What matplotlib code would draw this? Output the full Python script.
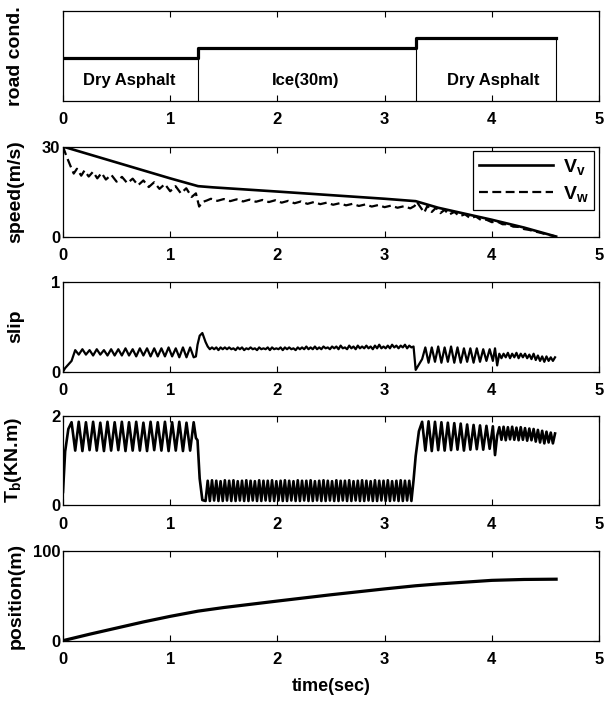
import numpy as np
import matplotlib
matplotlib.use("Agg")
import matplotlib.pyplot as plt
from matplotlib.font_manager import FontProperties

plt.rcParams["font.family"] = ["Liberation Sans", "DejaVu Sans"]
plt.rcParams["font.weight"] = "bold"
plt.rcParams["mathtext.fontset"] = "custom"
plt.rcParams["mathtext.rm"] = "Liberation Sans:bold"
plt.rcParams["mathtext.default"] = "rm"

# --- road condition ---
rc_t = [0.0, 1.26, 1.26, 3.29, 3.29, 4.60]
rc_v = [0.47, 0.47, 0.59, 0.59, 0.70, 0.70]
rc_edges = [1.26, 3.29, 4.60]
rc_edge_h = [0.47, 0.59, 0.70]
rc_names = ["Dry Asphalt", "Ice(30m)", "Dry Asphalt"]
rc_name_x = [0.62, 2.26, 4.01]

# --- speeds ---
vv_t = [0.0, 0.5, 1.0, 1.26, 1.4, 2.0, 2.5, 3.0, 3.29, 3.5, 4.0, 4.3, 4.6]
vv = [30.0, 24.7, 19.4, 16.8, 16.4, 15.0, 13.8, 12.6, 11.8, 9.6, 5.6, 3.0, 0.0]

vw_t = [0.00, 0.03, 0.07, 0.10, 0.13, 0.17, 0.20, 0.24, 0.28, 0.32, 0.36, 0.40, 0.45,
        0.50, 0.55, 0.60, 0.65, 0.70, 0.75, 0.80, 0.85, 0.90, 0.95, 1.00, 1.05, 1.10,
        1.15, 1.20, 1.24, 1.27, 1.30, 1.34, 1.38,
        1.44, 1.50, 1.56, 1.62, 1.68, 1.74, 1.80, 1.86, 1.92, 1.98, 2.04, 2.10, 2.16,
        2.22, 2.28, 2.34, 2.40, 2.46, 2.52, 2.58, 2.64, 2.70, 2.76, 2.82, 2.88, 2.94,
        3.00, 3.06, 3.12, 3.18, 3.24, 3.28, 3.30,
        3.34, 3.37, 3.40, 3.44, 3.48, 3.52, 3.56, 3.60, 3.65, 3.70, 3.75, 3.80, 3.85,
        3.90, 3.95, 4.00, 4.05, 4.10, 4.15, 4.20, 4.25, 4.30, 4.35, 4.40, 4.45, 4.50,
        4.55, 4.60]
vw = [30.0, 27.0, 23.5, 21.0, 22.6, 20.3, 22.0, 20.0, 21.6, 19.4, 21.2, 19.0, 20.6,
      18.3, 19.9, 17.8, 19.3, 17.1, 18.7, 16.5, 18.1, 15.9, 17.5, 15.1, 16.8, 14.4,
      16.1, 13.2, 14.4, 10.0, 11.5, 12.0, 12.6,
      11.9, 12.5, 11.8, 12.4, 11.7, 12.3, 11.6, 12.2, 11.5, 12.1, 11.3, 11.9, 11.1,
      11.7, 10.9, 11.5, 10.8, 11.3, 10.6, 11.1, 10.4, 10.9, 10.2, 10.7, 10.0, 10.5,
      9.8, 10.3, 9.6, 10.1, 9.4, 10.2, 11.6,
      9.5, 8.0, 10.3, 8.2, 9.6, 7.8, 8.9, 7.3, 8.2, 6.8, 7.4, 6.1, 6.7,
      5.5, 5.6, 4.8, 5.0, 4.1, 4.1, 3.3, 3.2, 2.5, 2.2, 1.7, 1.3, 0.8,
      0.4, 0.0]

# --- slip and brake torque (same sample instants) ---
t_dry = [0.000, 0.020, 0.050, 0.080, 0.114, 0.147, 0.181, 0.214, 0.248, 0.281, 0.315,
         0.348, 0.382, 0.415, 0.449, 0.482, 0.516, 0.549, 0.583, 0.616, 0.650, 0.683,
         0.717, 0.750, 0.784, 0.817, 0.851, 0.884, 0.918, 0.951, 0.985, 1.018, 1.052,
         1.085, 1.119, 1.152, 1.186, 1.219, 1.240, 1.255, 1.275, 1.300, 1.330]
tb_dry = [0.30, 1.20, 1.70, 1.85, 1.22, 1.86, 1.21, 1.85, 1.23, 1.86, 1.22, 1.84,
          1.21, 1.86, 1.22, 1.85, 1.23, 1.86, 1.21, 1.85, 1.22, 1.86, 1.22, 1.84,
          1.21, 1.86, 1.23, 1.85, 1.22, 1.86, 1.21, 1.85, 1.22, 1.86, 1.21, 1.84,
          1.22, 1.85, 1.50, 1.45, 0.60, 0.12, 0.10]
slip_dry = [0.00, 0.04, 0.08, 0.12, 0.24, 0.19, 0.25, 0.19, 0.24, 0.18, 0.25, 0.19,
            0.24, 0.18, 0.25, 0.18, 0.25, 0.18, 0.26, 0.18, 0.25, 0.17, 0.26, 0.18,
            0.26, 0.17, 0.26, 0.17, 0.26, 0.17, 0.27, 0.17, 0.26, 0.16, 0.27, 0.16,
            0.27, 0.16, 0.17, 0.30, 0.40, 0.43, 0.33]

t_ice = [1.35, 1.37, 1.39, 1.41, 1.43, 1.45, 1.47, 1.49, 1.51, 1.53,
         1.55, 1.57, 1.59, 1.61, 1.63, 1.65, 1.67, 1.69, 1.71, 1.73,
         1.75, 1.77, 1.79, 1.81, 1.83, 1.85, 1.87, 1.89, 1.91, 1.93,
         1.95, 1.97, 1.99, 2.01, 2.03, 2.05, 2.07, 2.09, 2.11, 2.13,
         2.15, 2.17, 2.19, 2.21, 2.23, 2.25, 2.27, 2.29, 2.31, 2.33,
         2.35, 2.37, 2.39, 2.41, 2.43, 2.45, 2.47, 2.49, 2.51, 2.53,
         2.55, 2.57, 2.59, 2.61, 2.63, 2.65, 2.67, 2.69, 2.71, 2.73,
         2.75, 2.77, 2.79, 2.81, 2.83, 2.85, 2.87, 2.89, 2.91, 2.93,
         2.95, 2.97, 2.99, 3.01, 3.03, 3.05, 3.07, 3.09, 3.11, 3.13,
         3.15, 3.17, 3.19, 3.21, 3.23, 3.25, 3.27]
tb_ice = [0.55, 0.10, 0.56, 0.11, 0.55, 0.10, 0.54, 0.10, 0.56, 0.11,
          0.55, 0.10, 0.56, 0.10, 0.54, 0.11, 0.55, 0.10, 0.56, 0.10,
          0.55, 0.11, 0.54, 0.10, 0.56, 0.10, 0.55, 0.11, 0.55, 0.10,
          0.56, 0.10, 0.54, 0.11, 0.55, 0.10, 0.56, 0.10, 0.55, 0.11,
          0.54, 0.10, 0.56, 0.10, 0.55, 0.11, 0.55, 0.10, 0.56, 0.10,
          0.54, 0.11, 0.55, 0.10, 0.56, 0.10, 0.55, 0.11, 0.54, 0.10,
          0.56, 0.10, 0.55, 0.11, 0.55, 0.10, 0.56, 0.10, 0.54, 0.11,
          0.55, 0.10, 0.56, 0.10, 0.55, 0.11, 0.54, 0.10, 0.56, 0.10,
          0.55, 0.11, 0.55, 0.10, 0.56, 0.10, 0.54, 0.11, 0.55, 0.10,
          0.56, 0.10, 0.55, 0.11, 0.55, 0.10, 0.56]
slip_ice = [0.28, 0.25, 0.27, 0.25, 0.27, 0.24, 0.27, 0.25, 0.27, 0.25,
            0.27, 0.25, 0.26, 0.24, 0.27, 0.25, 0.27, 0.24, 0.26, 0.25,
            0.27, 0.25, 0.26, 0.24, 0.27, 0.25, 0.26, 0.25, 0.27, 0.24,
            0.27, 0.25, 0.26, 0.25, 0.27, 0.24, 0.27, 0.25, 0.27, 0.25,
            0.26, 0.24, 0.27, 0.25, 0.27, 0.25, 0.28, 0.25, 0.27, 0.25,
            0.28, 0.25, 0.27, 0.25, 0.28, 0.26, 0.27, 0.25, 0.28, 0.26,
            0.28, 0.25, 0.29, 0.26, 0.27, 0.25, 0.29, 0.26, 0.28, 0.25,
            0.29, 0.26, 0.28, 0.26, 0.29, 0.26, 0.28, 0.25, 0.29, 0.26,
            0.30, 0.26, 0.28, 0.26, 0.29, 0.26, 0.30, 0.27, 0.29, 0.26,
            0.29, 0.27, 0.30, 0.26, 0.29, 0.27, 0.28]

t_post = [3.29, 3.32, 3.35, 3.38, 3.41, 3.44, 3.47, 3.50, 3.53, 3.56, 3.59, 3.62,
          3.65, 3.68, 3.71, 3.74, 3.77, 3.80, 3.83, 3.86, 3.89, 3.92, 3.95, 3.98,
          4.01, 4.03, 4.05]
tb_post = [1.10, 1.65, 1.86, 1.22, 1.87, 1.21, 1.86, 1.23, 1.85, 1.22, 1.84, 1.23,
           1.83, 1.24, 1.82, 1.22, 1.80, 1.24, 1.79, 1.25, 1.78, 1.24, 1.77, 1.26,
           1.76, 1.12, 1.55]
slip_post = [0.02, 0.08, 0.14, 0.27, 0.10, 0.27, 0.11, 0.28, 0.10, 0.27, 0.11, 0.28,
             0.10, 0.27, 0.10, 0.26, 0.11, 0.26, 0.10, 0.26, 0.11, 0.25, 0.12, 0.25,
             0.12, 0.26, 0.07]

t_end = [4.07, 4.09, 4.11, 4.13, 4.15, 4.17, 4.19, 4.21, 4.23, 4.25, 4.27, 4.29,
         4.31, 4.33, 4.35, 4.37, 4.39, 4.41, 4.43, 4.45, 4.47, 4.49, 4.51, 4.53,
         4.55, 4.57, 4.59]
tb_end = [1.74, 1.46, 1.75, 1.45, 1.74, 1.47, 1.75, 1.46, 1.73, 1.45, 1.74, 1.46,
          1.72, 1.44, 1.71, 1.45, 1.70, 1.42, 1.68, 1.40, 1.66, 1.38, 1.64, 1.40,
          1.62, 1.38, 1.60]
slip_end = [0.20, 0.15, 0.20, 0.16, 0.21, 0.15, 0.20, 0.16, 0.21, 0.15, 0.20, 0.16,
            0.20, 0.15, 0.19, 0.14, 0.20, 0.13, 0.18, 0.12, 0.17, 0.11, 0.17, 0.12,
            0.16, 0.12, 0.16]

t_bs = t_dry + t_ice + t_post + t_end
tb = tb_dry + tb_ice + tb_post + tb_end
slip = slip_dry + slip_ice + slip_post + slip_end

# --- position ---
pos_t = [0.0, 0.25, 0.5, 0.75, 1.0, 1.26, 1.5, 2.0, 2.5, 3.0, 3.29, 3.5, 4.0, 4.3, 4.6]
pos = [0.0, 7.2, 14.0, 20.8, 27.0, 32.8, 36.8, 44.0, 51.0, 57.5, 61.0, 63.0, 67.0, 68.0, 68.3]

fig = plt.figure(figsize=(6.08, 7.04), dpi=100)
left, width, height = 0.1036, 0.8816, 0.1278
bottoms = [0.857, 0.664, 0.472, 0.282, 0.090]
axes = [fig.add_axes([left, b, width, height]) for b in bottoms]

lw = 1.9
tick_font = {"family": ["Liberation Sans", "DejaVu Sans"], "weight": "bold", "size": 12}
lab_font = {"family": ["Liberation Sans", "DejaVu Sans"], "weight": "bold", "size": 14}

# road condition
ax = axes[0]
ax.plot(rc_t, rc_v, color="black", lw=lw + 0.4)
ax.vlines(rc_edges, 0, rc_edge_h, color="black", lw=0.8)
for x, name in zip(rc_name_x, rc_names):
    ax.text(x, 0.22, name, ha="center", va="center", fontdict=dict(tick_font, size=12))
ax.set_ylim(0, 1)
ax.set_yticks([])
ax.set_ylabel("road cond.", fontdict=lab_font)

# speed
ax = axes[1]
ax.plot(vv_t, vv, color="black", lw=lw, label="V$_{v}$")
ax.plot(vw_t, vw, color="black", lw=lw - 0.3, ls=(0, (4, 2)), label="V$_{w}$")
ax.set_ylim(0, 30)
ax.set_yticks([0, 30])
ax.set_ylabel("speed(m/s)", fontdict=lab_font)
leg = ax.legend(loc="upper right", bbox_to_anchor=(1.0, 1.0), borderaxespad=0.25,
                fancybox=False, edgecolor="black", framealpha=1, handlelength=3.8,
                borderpad=0.3, labelspacing=0.35, handletextpad=0.5,
                prop={"family": ["Liberation Sans"], "weight": "bold", "size": 14})
leg.get_frame().set_linewidth(0.9)

# slip
ax = axes[2]
ax.plot(t_bs, slip, color="black", lw=lw - 0.3)
ax.set_ylim(0, 1)
ax.set_yticks([0, 1])
ax.set_ylabel("slip", fontdict=lab_font)

# brake torque
ax = axes[3]
ax.plot(t_bs, tb, color="black", lw=lw)
ax.set_ylim(0, 2)
ax.set_yticks([0, 2])
ax.set_ylabel("T$_{b}$(KN.m)", fontdict=lab_font)

# position
ax = axes[4]
ax.plot(pos_t, pos, color="black", lw=lw + 0.4)
ax.set_ylim(0, 100)
ax.set_yticks([0, 100])
ax.set_ylabel("position(m)", fontdict=lab_font)
ax.set_xlabel("time(sec)", fontdict=dict(tick_font, size=13), labelpad=8)

for ax in axes:
    ax.set_xlim(0, 5)
    ax.set_xticks([0, 1, 2, 3, 4, 5])
    ax.tick_params(direction="in", top=True, right=True, length=4, width=0.8)
    ax.tick_params(axis="x", pad=8)
    ax.tick_params(axis="y", pad=2)
    for lbl in ax.get_xticklabels() + ax.get_yticklabels():
        lbl.set_fontproperties(FontProperties(**tick_font))
    for s in ax.spines.values():
        s.set_linewidth(0.9)
    ax.yaxis.set_label_coords(-0.072, 0.5)

fig.savefig("out.png", dpi=100, facecolor="white")
